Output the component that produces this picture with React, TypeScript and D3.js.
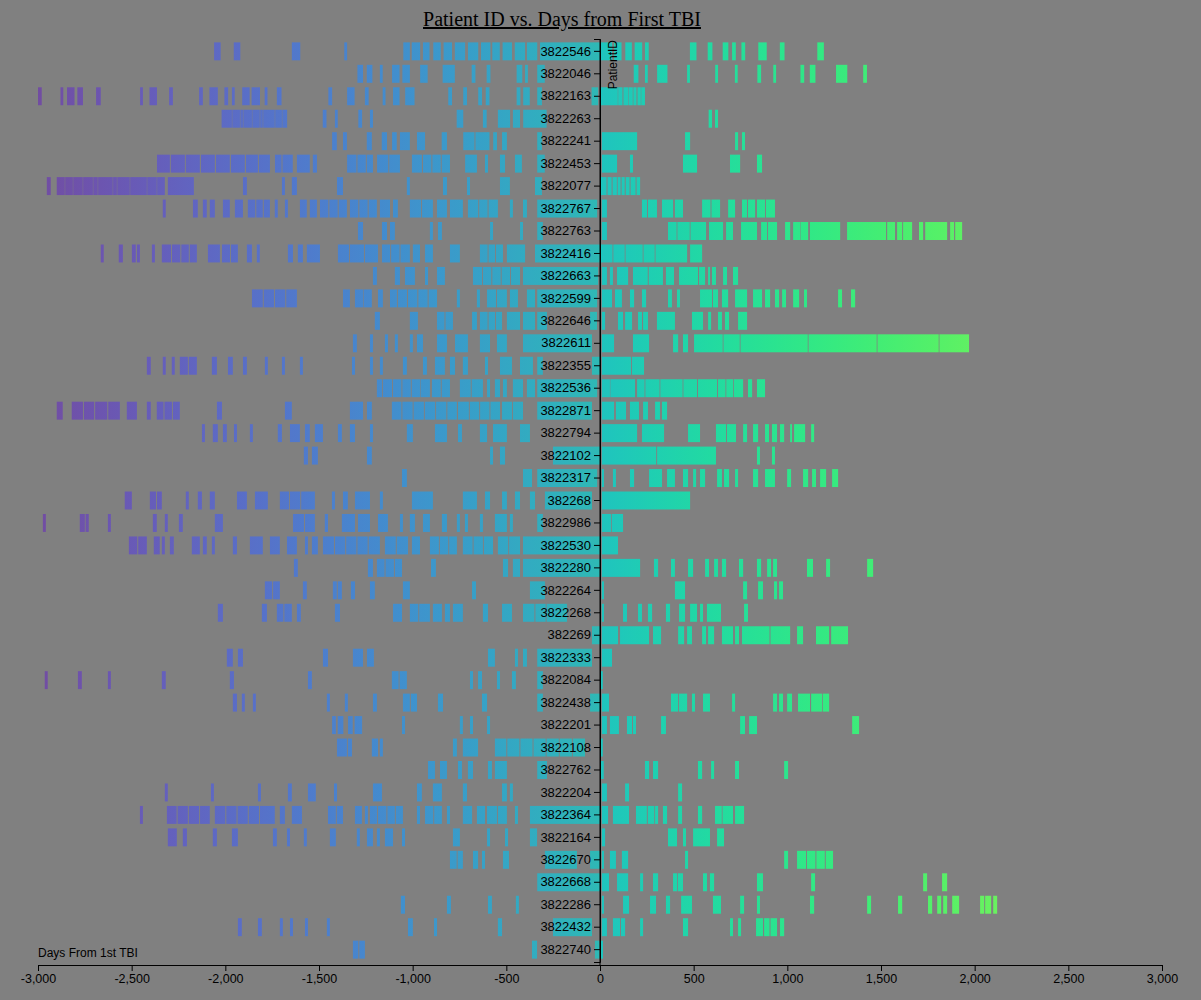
import React, { useEffect, useRef } from "react";
import * as d3 from "d3";

const patientIds = [
  "3822546","3822046","3822163","3822263","3822241","3822453","3822077","3822767","3822763","3822416",
  "3822663","3822599","3822646","3822611","3822355","3822536","3822871","3822794","3822102","3822317",
  "382268","3822986","3822530","3822280","3822264","3822268","382269","3822333","3822084","3822438",
  "3822201","3822108","3822762","3822204","3822364","3822164","3822670","3822668","3822286","3822432","3822740",
];

const xTicks = [-3000, -2500, -2000, -1500, -1000, -500, 0, 500, 1000, 1500, 2000, 2500, 3000];

// [start day, end day] spans of visits relative to first TBI
const ev_3822546 = [[-2060,-2025],[-1955,-1920],[-1645,-1600],[-1365,-1350],[-1050,-1015],[-1005,-960],[-945,-910],[-890,-850],[-835,-790],[-775,-720],[-705,-650],[-635,-585],[-575,-535],[-520,-470],[-455,-400],[-390,-335],[-320,0],[5,65],[75,115],[135,170],[185,225],[240,260],[480,515],[575,600],[655,685],[705,725],[755,775],[845,890],[960,985],[1160,1195]];
const ev_3822046 = [[-1295,-1265],[-1245,-1215],[-1175,-1160],[-1110,-1070],[-1055,-1015],[-960,-920],[-840,-775],[-685,-665],[-605,-585],[-445,-415],[-400,-385],[-335,-295],[180,205],[240,255],[305,360],[465,480],[615,630],[720,735],[840,860],[925,940],[1070,1090],[1120,1150],[1260,1320],[1405,1425]];
const ev_3822163 = [[-3000,-2980],[-2880,-2865],[-2845,-2805],[-2790,-2760],[-2690,-2665],[-2455,-2440],[-2405,-2365],[-2300,-2280],[-2140,-2120],[-2085,-2040],[-2005,-1985],[-1965,-1950],[-1910,-1870],[-1860,-1815],[-1790,-1775],[-1725,-1700],[-1450,-1430],[-1350,-1310],[-1255,-1235],[-1160,-1145],[-1105,-1070],[-1040,-990],[-810,-790],[-730,-710],[-650,-630],[-610,-590],[-445,-425],[-410,-375],[-335,-310],[-45,-10],[5,95],[97,120],[125,150],[152,175],[178,195],[200,218],[220,240]];
const ev_3822263 = [[-2020,-1965],[-1963,-1922],[-1920,-1906],[-1904,-1858],[-1856,-1816],[-1814,-1800],[-1798,-1736],[-1734,-1698],[-1696,-1670],[-1480,-1460],[-1415,-1400],[-1290,-1270],[-1228,-1212],[-765,-730],[-625,-605],[-545,-480],[-465,-427],[-410,-285],[580,598],[614,630]];
const ev_3822241 = [[-1430,-1405],[-1372,-1351],[-1245,-1218],[-1165,-1137],[-1110,-1085],[-1068,-1015],[-977,-934],[-845,-817],[-730,-670],[-665,-590],[-570,-550],[-523,-497],[-335,-310],[10,198],[454,481],[721,737],[758,774]];
const ev_3822453 = [[-2365,-2296],[-2291,-2216],[-2211,-2136],[-2130,-2056],[-2050,-1976],[-1970,-1896],[-1890,-1826],[-1821,-1762],[-1735,-1700],[-1695,-1640],[-1618,-1549],[-1533,-1511],[-1350,-1300],[-1295,-1250],[-1245,-1212],[-1190,-1130],[-1125,-1068],[-1004,-951],[-945,-900],[-895,-850],[-845,-801],[-720,-657],[-614,-598],[-534,-507],[-454,-417],[-335,-295],[10,91],[160,176],[443,518],[694,748],[838,865]];
const ev_3822077 = [[-2953,-2932],[-2900,-2857],[-2855,-2814],[-2812,-2761],[-2759,-2707],[-2705,-2681],[-2679,-2601],[-2599,-2579],[-2577,-2510],[-2508,-2419],[-2417,-2366],[-2364,-2323],[-2307,-2168],[-1906,-1885],[-1698,-1682],[-1645,-1618],[-1404,-1372],[-1031,-1015],[-838,-817],[-710,-694],[-534,-481],[-347,-310],[5,35],[40,62],[67,90],[94,110],[115,132],[137,158],[163,190],[195,214]];
const ev_3822767 = [[-2334,-2318],[-2173,-2147],[-2120,-2099],[-2083,-2056],[-2013,-1976],[-1949,-1906],[-1880,-1840],[-1835,-1800],[-1795,-1762],[-1736,-1720],[-1682,-1666],[-1602,-1565],[-1549,-1511],[-1495,-1450],[-1445,-1400],[-1395,-1351],[-1335,-1290],[-1285,-1240],[-1235,-1191],[-1175,-1121],[-1105,-1079],[-1015,-955],[-950,-892],[-870,-817],[-801,-732],[-705,-650],[-645,-600],[-595,-545],[-481,-465],[-411,-390],[-335,-15],[10,37],[224,251],[256,304],[331,390],[400,443],[545,590],[595,641],[684,721],[758,785],[790,828],[838,881],[886,934]];
const ev_3822763 = [[-1292,-1265],[-1164,-1137],[-1121,-1095],[-908,-892],[-865,-844],[-587,-571],[-427,-411],[-335,-305],[10,37],[363,409],[413,479],[483,566],[582,657],[673,710],[753,838],[860,892],[897,945],[988,1015],[1031,1068],[1070,1111],[1121,1282],[1319,1527],[1533,1575],[1586,1613],[1618,1666],[1703,1725],[1736,1853],[1869,1890],[1896,1933]];
const ev_3822416 = [[-2665,-2649],[-2569,-2547],[-2499,-2478],[-2472,-2456],[-2392,-2376],[-2339,-2290],[-2285,-2240],[-2235,-2195],[-2190,-2152],[-2093,-2029],[-2018,-1975],[-1970,-1933],[-1885,-1858],[-1832,-1816],[-1666,-1639],[-1613,-1586],[-1565,-1495],[-1399,-1340],[-1335,-1260],[-1255,-1185],[-1164,-1120],[-1115,-1070],[-1065,-1015],[-999,-961],[-934,-892],[-801,-748],[-641,-600],[-595,-560],[-555,-518],[-497,-400],[-347,0],[5,67],[71,132],[136,228],[232,292],[296,465],[481,545]];
const ev_3822663 = [[-1212,-1191],[-1095,-1068],[-1041,-988],[-934,-918],[-870,-828],[-678,-630],[-625,-580],[-575,-530],[-525,-480],[-475,-427],[-411,-10],[10,37],[53,69],[91,150],[176,255],[260,336],[352,395],[422,523],[529,561],[577,587],[598,619],[657,678],[710,737]];
const ev_3822599 = [[-1858,-1800],[-1795,-1740],[-1735,-1680],[-1675,-1618],[-1372,-1335],[-1308,-1265],[-1262,-1218],[-1185,-1159],[-1121,-1084],[-1079,-1030],[-1025,-975],[-970,-920],[-915,-870],[-764,-748],[-657,-641],[-603,-555],[-550,-497],[-481,-438],[-390,-347],[-335,-15],[10,64],[80,117],[160,182],[224,246],[363,384],[411,427],[534,598],[603,630],[651,684],[721,785],[817,865],[881,908],[934,956],[972,993],[1031,1063],[1089,1105],[1271,1292],[1340,1362]];
const ev_3822646 = [[-1202,-1175],[-1015,-972],[-870,-830],[-825,-785],[-683,-657],[-641,-600],[-595,-560],[-555,-523],[-497,-427],[-411,-347],[-335,-283],[-53,-16],[10,27],[96,123],[134,171],[203,224],[230,256],[304,400],[491,550],[577,593],[630,651],[667,689],[737,785]];
const ev_3822611 = [[-1319,-1298],[-1228,-1212],[-1148,-1132],[-1095,-1079],[-1015,-999],[-977,-945],[-870,-817],[-774,-705],[-641,-587],[-550,-497],[-411,-43],[10,75],[176,262],[390,417],[443,470],[502,655],[659,746],[750,1109],[1113,1477],[1481,1808],[1812,1970]];
const ev_3822355 = [[-2419,-2398],[-2334,-2318],[-2286,-2270],[-2243,-2200],[-2195,-2152],[-2072,-2045],[-1986,-1960],[-1906,-1885],[-1789,-1773],[-1698,-1682],[-1602,-1586],[-1324,-1308],[-1228,-1212],[-1175,-1159],[-1052,-1031],[-945,-924],[-881,-828],[-801,-774],[-732,-705],[-614,-598],[-534,-470],[-427,-358],[-335,-305],[-43,0],[10,166],[171,235]];
const ev_3822536 = [[-1191,-1164],[-1159,-1110],[-1105,-1060],[-1055,-1010],[-1005,-961],[-958,-908],[-897,-850],[-845,-801],[-748,-690],[-685,-625],[-603,-587],[-561,-534],[-518,-497],[-465,-411],[-390,-347],[-335,-15],[10,53],[55,187],[198,238],[242,318],[322,441],[445,518],[523,625],[630,670],[674,710],[714,764],[790,812],[838,881]];
const ev_3822871 = [[-2900,-2868],[-2820,-2760],[-2755,-2700],[-2695,-2630],[-2625,-2563],[-2526,-2472],[-2419,-2398],[-2366,-2330],[-2325,-2285],[-2280,-2243],[-2045,-2018],[-1682,-1645],[-1335,-1265],[-1244,-1218],[-1111,-1060],[-1055,-1000],[-995,-940],[-935,-880],[-875,-820],[-815,-764],[-758,-700],[-695,-645],[-640,-590],[-585,-534],[-523,-470],[-465,-411],[-335,-43],[10,75],[85,139],[160,208],[230,256],[294,320],[331,358]];
const ev_3822794 = [[-2125,-2109],[-2067,-2040],[-2013,-1992],[-1954,-1938],[-1869,-1853],[-1720,-1698],[-1655,-1602],[-1575,-1549],[-1522,-1479],[-1399,-1378],[-1335,-1308],[-1228,-1212],[-1031,-999],[-881,-817],[-758,-737],[-641,-603],[-571,-497],[-427,-374],[10,198],[224,342],[470,534],[619,673],[678,726],[764,785],[817,844],[881,902],[918,945],[961,983],[1015,1025],[1036,1095],[1127,1143]];
const ev_3822102 = [[-1581,-1559],[-1538,-1506],[-1244,-1218],[-587,-571],[-534,-507],[-251,0],[10,300],[305,619],[838,854],[918,934]];
const ev_3822317 = [[-1057,-1031],[-411,-363],[-335,-15],[10,21],[69,85],[160,182],[262,331],[358,400],[443,470],[497,513],[534,561],[625,651],[662,689],[721,737],[817,844],[881,934],[999,1020],[1084,1111],[1132,1153],[1175,1207],[1239,1271]];
const ev_382268 = [[-2537,-2499],[-2403,-2370],[-2365,-2339],[-2211,-2195],[-2147,-2125],[-2083,-2056],[-1938,-1885],[-1842,-1773],[-1709,-1660],[-1655,-1600],[-1595,-1522],[-1431,-1415],[-1372,-1346],[-1308,-1228],[-1175,-1159],[-1004,-892],[-732,-657],[-614,-587],[-523,-497],[-454,-427],[-374,-347],[-294,-43],[10,481]];
const ev_3822986 = [[-2974,-2958],[-2777,-2750],[-2746,-2729],[-2627,-2611],[-2387,-2366],[-2323,-2307],[-2248,-2227],[-2056,-2013],[-1639,-1580],[-1575,-1522],[-1469,-1452],[-1378,-1308],[-1292,-1228],[-1185,-1132],[-1068,-1052],[-1015,-988],[-945,-908],[-844,-817],[-764,-748],[-721,-705],[-641,-625],[-561,-497],[-481,-465],[-335,-305],[10,60],[64,123]];
const ev_3822530 = [[-2515,-2470],[-2465,-2419],[-2382,-2350],[-2339,-2323],[-2296,-2275],[-2179,-2136],[-2120,-2099],[-2072,-2056],[-1960,-1938],[-1869,-1800],[-1762,-1709],[-1671,-1618],[-1575,-1559],[-1538,-1506],[-1479,-1420],[-1415,-1360],[-1355,-1300],[-1295,-1240],[-1235,-1175],[-1148,-1090],[-1085,-1025],[-1004,-961],[-908,-860],[-855,-810],[-805,-764],[-732,-680],[-675,-625],[-620,-571],[-545,-490],[-485,-427],[-411,0],[10,96]];
const ev_3822280 = [[-1634,-1613],[-1239,-1212],[-1191,-1150],[-1145,-1100],[-1095,-1057],[-902,-876],[-518,-491],[-465,-427],[-411,0],[10,214],[288,310],[379,400],[470,497],[561,582],[609,630],[651,673],[742,764],[838,860],[892,913],[924,945],[1105,1137],[1207,1228],[1426,1458]];
const ev_3822264 = [[-1789,-1750],[-1745,-1709],[-1586,-1565],[-1426,-1405],[-1400,-1378],[-1330,-1308],[-1228,-1202],[-1052,-1015],[-683,-662],[-374,-294],[10,21],[400,454],[764,785],[844,870],[929,945],[956,977]];
const ev_3822268 = [[-2040,-2013],[-1805,-1778],[-1725,-1690],[-1685,-1645],[-1618,-1597],[-1415,-1388],[-1105,-1057],[-1015,-970],[-965,-908],[-892,-844],[-828,-801],[-785,-732],[-625,-598],[-523,-470],[-411,-350],[-345,-290],[-285,-176],[10,21],[123,144],[203,224],[256,278],[352,374],[422,454],[481,518],[534,550],[571,646],[769,790]];
const ev_382269 = [[-43,0],[10,96],[107,262],[283,326],[417,449],[465,491],[545,566],[577,609],[651,710],[721,742],[758,905],[910,1015],[1052,1084],[1153,1223],[1234,1324]];
const ev_3822333 = [[-1992,-1960],[-1933,-1906],[-1479,-1452],[-1319,-1265],[-1244,-1207],[-598,-561],[-454,-438],[-411,-390],[-335,-43],[10,64]];
const ev_3822084 = [[-2964,-2948],[-2787,-2766],[-2627,-2611],[-2339,-2318],[-1976,-1954],[-1559,-1538],[-1111,-1075],[-1070,-1031],[-694,-678],[-651,-630],[-550,-534],[-470,-449],[-335,-305],[5,15]];
const ev_3822438 = [[-1960,-1938],[-1912,-1896],[-1853,-1837],[-1458,-1442],[-1362,-1346],[-1212,-1191],[-1052,-1015],[-1010,-977],[-865,-838],[-630,-603],[-335,-305],[-53,0],[10,48],[379,417],[422,465],[491,507],[550,587],[705,721],[924,945],[956,977],[999,1025],[1057,1121],[1127,1185],[1189,1223]];
const ev_3822201 = [[-1430,-1410],[-1400,-1370],[-1345,-1320],[-1310,-1270],[-1057,-1041],[-748,-732],[-694,-678],[-603,-587],[10,37],[53,101],[144,171],[176,192],[326,352],[748,774],[796,838],[1346,1383]];
const ev_3822108 = [[-1404,-1351],[-1346,-1324],[-1218,-1185],[-1175,-1159],[-785,-764],[-732,-651],[-561,-500],[-495,-430],[-425,-360],[-355,-290],[-285,-220],[-215,-150],[-145,-80],[5,15]];
const ev_3822762 = [[-918,-881],[-854,-817],[-758,-737],[-705,-678],[-598,-577],[-561,-497],[-335,-283],[5,20],[240,262],[283,310],[523,545],[593,609],[721,742],[983,1004]];
const ev_3822204 = [[-2323,-2307],[-2077,-2061],[-1826,-1810],[-1666,-1645],[-1559,-1517],[-1420,-1404],[-1212,-1164],[-977,-951],[-892,-844],[-732,-710],[-523,-497],[-481,-465],[10,37],[134,155],[417,438]];
const ev_3822364 = [[-2456,-2440],[-2312,-2260],[-2255,-2200],[-2195,-2140],[-2135,-2083],[-2056,-2000],[-1995,-1940],[-1935,-1880],[-1875,-1820],[-1815,-1736],[-1709,-1682],[-1645,-1591],[-1452,-1410],[-1405,-1372],[-1308,-1271],[-1255,-1239],[-1228,-1190],[-1185,-1140],[-1135,-1095],[-1090,-1052],[-977,-961],[-934,-890],[-885,-844],[-817,-801],[-732,-683],[-657,-614],[-603,-550],[-545,-497],[-454,-438],[-374,0],[10,43],[69,155],[192,250],[255,290],[294,310],[336,358],[417,438],[523,545],[614,650],[654,710],[721,769]];
const ev_3822164 = [[-2307,-2259],[-2227,-2205],[-2067,-2045],[-1965,-1933],[-1746,-1725],[-1671,-1655],[-1581,-1565],[-1442,-1410],[-1298,-1282],[-1244,-1212],[-1191,-1175],[-1148,-1105],[-1057,-1041],[-785,-748],[-603,-587],[-507,-491],[-374,-336],[10,27],[363,411],[443,459],[497,587],[625,662]];
const ev_3822670 = [[-801,-765],[-760,-732],[-678,-651],[-630,-614],[-518,-486],[-294,-123],[-53,0],[10,21],[53,85],[117,150],[454,470],[983,1004],[1052,1100],[1105,1150],[1155,1200],[1205,1244]];
const ev_3822668 = [[-335,0],[10,48],[91,150],[214,230],[283,310],[390,412],[416,443],[550,571],[587,609],[838,870],[1127,1148],[1725,1746],[1826,1853]];
const ev_3822286 = [[-1063,-1041],[-817,-796],[-598,-577],[-449,-433],[10,21],[123,155],[267,299],[352,374],[433,491],[603,646],[748,769],[838,854],[1121,1143],[1426,1447],[1591,1613],[1751,1773],[1800,1821],[1832,1853],[1880,1917],[2029,2051],[2056,2088],[2099,2120]];
const ev_3822432 = [[-1933,-1912],[-1826,-1805],[-1709,-1693],[-1655,-1639],[-1575,-1559],[-1458,-1442],[-1025,-999],[-886,-870],[-545,-523],[-251,-43],[10,37],[69,107],[112,134],[214,230],[443,470],[694,710],[737,753],[833,870],[876,905],[910,945],[961,983]];
const ev_3822740 = [[-1319,-1290],[-1285,-1255],[-363,-336],[-27,-2],[2,16]];

const patientEvents = [
  ev_3822546, ev_3822046, ev_3822163, ev_3822263, ev_3822241, ev_3822453, ev_3822077, ev_3822767, ev_3822763, ev_3822416,
  ev_3822663, ev_3822599, ev_3822646, ev_3822611, ev_3822355, ev_3822536, ev_3822871, ev_3822794, ev_3822102, ev_3822317,
  ev_382268, ev_3822986, ev_3822530, ev_3822280, ev_3822264, ev_3822268, ev_382269, ev_3822333, ev_3822084, ev_3822438,
  ev_3822201, ev_3822108, ev_3822762, ev_3822204, ev_3822364, ev_3822164, ev_3822670, ev_3822668, ev_3822286, ev_3822432, ev_3822740,
];

const SANS = "Arial, 'Liberation Sans', sans-serif";
const SERIF = "'Times New Roman', 'Liberation Serif', serif";

export default function App() {
  const xAxisRef = useRef<SVGGElement>(null);
  const yAxisRef = useRef<SVGGElement>(null);

  const x = d3.scaleLinear().domain([-3000, 3000]).range([38, 1162]);
  const y = d3.scaleBand<string>().domain(patientIds).range([39, 962]).paddingInner(0.2).paddingOuter(0.15);
  const fmt = d3.formatLocale({ decimal: ".", thousands: ",", grouping: [3], currency: ["$", ""], minus: "-" }).format(",");

  useEffect(() => {
    document.body.style.margin = "0";
    document.body.style.background = "#808080";

    const gx = d3.select(xAxisRef.current!);
    gx.selectAll("*").remove();
    gx.call(d3.axisBottom(x).tickValues(xTicks).tickFormat((d: any) => fmt(d)) as any);
    gx.attr("font-size", 12.5).attr("font-family", SANS);
    gx.selectAll("text").attr("fill", "#000");

    const gy = d3.select(yAxisRef.current!);
    gy.selectAll("*").remove();
    gy.call(d3.axisLeft(y).tickSize(6) as any);
    gy.attr("font-size", 13).attr("font-family", SANS);
    gy.append("line").attr("x1", 0).attr("x2", 0).attr("y1", 39).attr("y2", 965).attr("stroke", "#000");
    gy.append("text")
      .attr("transform", "rotate(-90)")
      .attr("x", -40)
      .attr("y", 8)
      .attr("dy", "0.71em")
      .attr("text-anchor", "end")
      .attr("font-size", 12)
      .attr("fill", "#000")
      .text("PatientID");
  }, []);

  const stops = d3.range(0, 1.0001, 0.05);

  return (
    <svg width={1201} height={1000} style={{ display: "block", background: "#808080" }}>
      <defs>
        <linearGradient id="coolGrad" gradientUnits="userSpaceOnUse" x1={x(-3000)} x2={x(3000)} y1={0} y2={0}>
          {stops.map((t, i) => (
            <stop key={i} offset={t} stopColor={d3.interpolateCool(t)} />
          ))}
        </linearGradient>
      </defs>
      <text x={562} y={26} textAnchor="middle" fontFamily={SERIF} fontSize={20} textDecoration="underline" fill="#000">
        Patient ID vs. Days from First TBI
      </text>
      <g>
        {patientIds.map((id, i) => (
          <g key={id}>
            {patientEvents[i].map((s, j) => (
              <rect
                key={j}
                x={x(s[0])}
                y={y(id)}
                width={Math.max(x(s[1]) - x(s[0]), 1.5)}
                height={y.bandwidth()}
                fill="url(#coolGrad)"
                fillOpacity={s[1] <= 0 ? 0.8 : 0.95}
              />
            ))}
          </g>
        ))}
      </g>
      <g ref={xAxisRef} transform="translate(0,965)" />
      <g ref={yAxisRef} transform={`translate(${x(0)},0)`} />
      <text x={38} y={957} fontFamily={SANS} fontSize={12} fill="#000">
        Days From 1st TBI
      </text>
    </svg>
  );
}
